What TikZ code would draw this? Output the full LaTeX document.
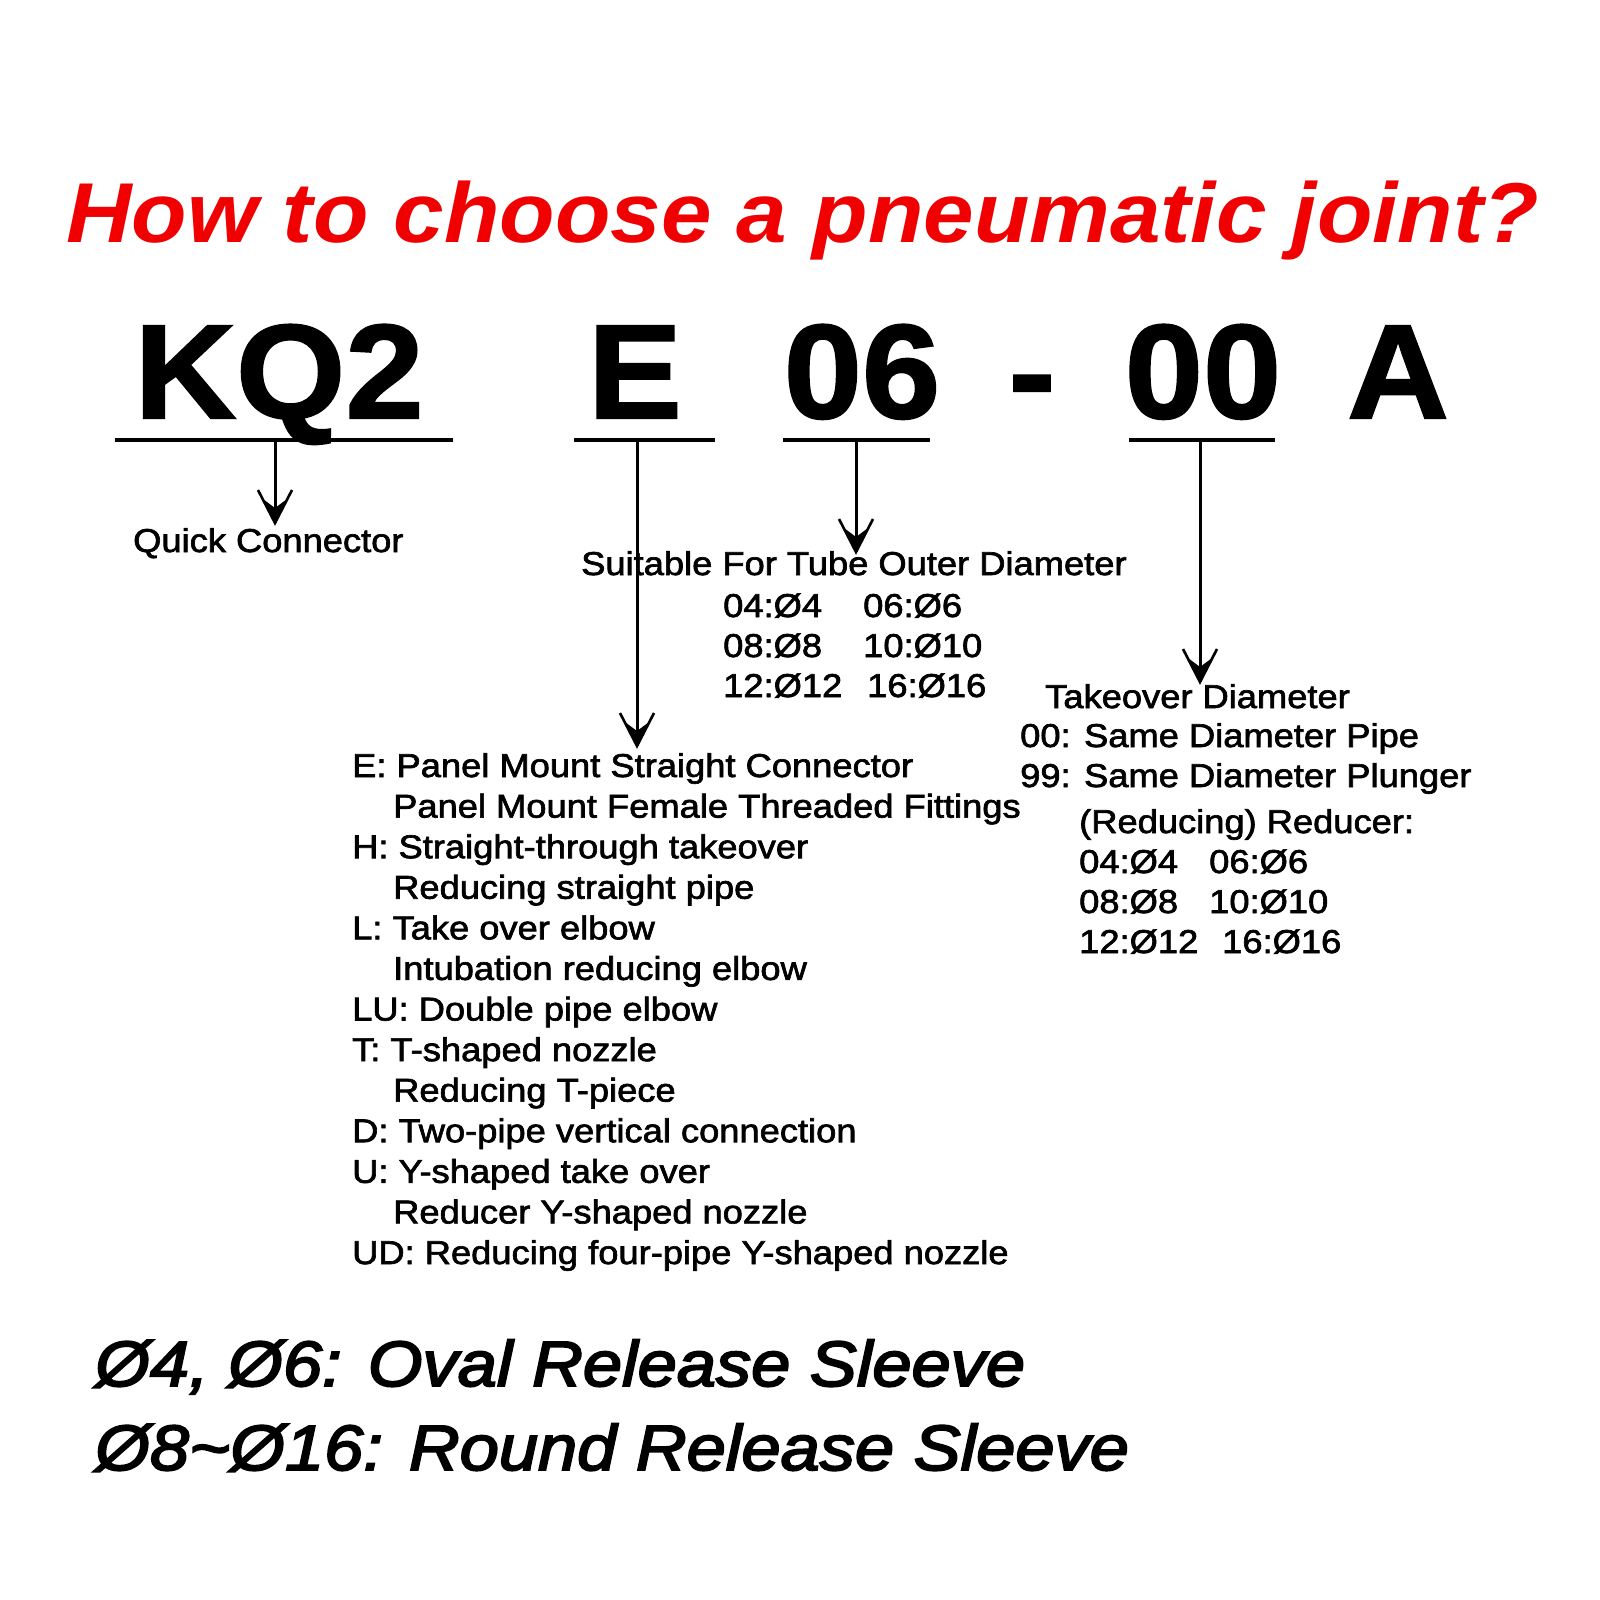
\documentclass[tikz,border=0pt]{standalone}
\usepackage{fontspec}
\usetikzlibrary{calc}
\setmainfont{Liberation Sans}
\newfontfamily\txtfont[FakeStretch=1.1,FakeBold=2]{Liberation Sans}
\newfontfamily\titlefont[FakeStretch=1.068]{Liberation Sans}
\newfontfamily\codefont[FakeStretch=1.05,FakeBold=1.5]{Liberation Sans}
\newfontfamily\botfont[FakeStretch=1.1,FakeBold=3]{Liberation Sans}
\definecolor{titlered}{RGB}{240,0,0}
\tikzset{
  lbl/.style={anchor=base west, inner sep=0pt, font=\txtfont\fontsize{33}{40}\selectfont},
  codetxt/.style={anchor=base, inner sep=0pt, font=\codefont\bfseries\fontsize{134}{140}\selectfont},
  bottxt/.style={anchor=base west, inner sep=0pt, font=\botfont\itshape\fontsize{64}{70}\selectfont},
  uline/.style={line width=3.5pt},
  shaft/.style={line width=3pt},
  headarms/.style={line width=2.6pt, line join=miter, miter limit=20},
}
\newcommand\arrowhd[1]{%
  \draw[headarms] ($(#1)+(-17,-33)$) -- (#1) -- ($(#1)+(17,-33)$);
  \fill ($(#1)+(0,1)$) -- ($(#1)+(-12,-24)$) -- ($(#1)+(0,-15)$) -- ($(#1)+(12,-24)$) -- cycle;}
\begin{document}
\begin{tikzpicture}[x=1pt,y=-1pt]
\useasboundingbox (0,0) rectangle (1600,1600);
\fill[white] (0,0) rectangle (1600,1600);

% title
\node[anchor=base west, inner sep=0pt, text=titlered,
      font=\titlefont\bfseries\itshape\fontsize{85}{90}\selectfont] (title) at (66,242)
      {How to choose a pneumatic joint?};

% code letters
\node[codetxt] (kq) at (279,418) {KQ2};
\node[codetxt] (e) at (635,418) {E};
\node[codetxt] (n06) at (862,418) {06};
\node[codetxt] (dash) at (1032,418) {-};
\node[codetxt] (n00) at (1203,418) {00};
\node[codetxt] (a) at (1398,418) {A};

% underline ends
\coordinate (kqL) at (115,440); \coordinate (kqR) at (453,440);
\coordinate (eL) at (574,440);  \coordinate (eR) at (715,440);
\coordinate (sL) at (783,440);  \coordinate (sR) at (930,440);
\coordinate (zL) at (1129,440); \coordinate (zR) at (1275,440);
\draw[uline] (kqL) -- (kqR);
\draw[uline] (eL) -- (eR);
\draw[uline] (sL) -- (sR);
\draw[uline] (zL) -- (zR);

% arrow start and tip points
\coordinate (kqS) at (275,440); \coordinate (kqT) at (275,523);
\coordinate (eS) at (637,440);  \coordinate (eT) at (637,746);
\coordinate (sS) at (856,440);  \coordinate (sT) at (856,552);
\coordinate (zS) at (1200,440); \coordinate (zT) at (1200,682);

% labels
\node[lbl] (qc) at (133,552) {Quick Connector};

\node[lbl] (suit) at (581,575) {Suitable For Tube Outer Diameter};
\node[lbl] (s1a) at (723,617) {04:Ø4};
\node[lbl] (s1b) at (863,617) {06:Ø6};
\node[lbl] (s2a) at (723,657) {08:Ø8};
\node[lbl] (s2b) at (863,657) {10:Ø10};
\node[lbl] (s3a) at (723,697) {12:Ø12};
\node[lbl] (s3b) at (867,697) {16:Ø16};

\node[lbl] (tk) at (1045,708) {Takeover Diameter};
\node[lbl] (t00) at (1020,747) {00: Same Diameter Pipe};
\node[lbl] (t99) at (1020,787) {99: Same Diameter Plunger};
\node[lbl] (tred) at (1079,833) {(Reducing) Reducer:};
\node[lbl] (t1a) at (1079,873) {04:Ø4};
\node[lbl] (t1b) at (1209,873) {06:Ø6};
\node[lbl] (t2a) at (1079,913) {08:Ø8};
\node[lbl] (t2b) at (1209,913) {10:Ø10};
\node[lbl] (t3a) at (1079,953) {12:Ø12};
\node[lbl] (t3b) at (1222,953) {16:Ø16};

\node[lbl] (l0) at (352,777) {E: Panel Mount Straight Connector};
\node[lbl] (l1) at (393,817.6) {Panel Mount Female Threaded Fittings};
\node[lbl] (l2) at (352,858.2) {H: Straight-through takeover};
\node[lbl] (l3) at (393,898.7) {Reducing straight pipe};
\node[lbl] (l4) at (352,939.3) {L: Take over elbow};
\node[lbl] (l5) at (393,979.9) {Intubation reducing elbow};
\node[lbl] (l6) at (352,1020.5) {LU: Double pipe elbow};
\node[lbl] (l7) at (352,1061.1) {T: T-shaped nozzle};
\node[lbl] (l8) at (393,1101.6) {Reducing T-piece};
\node[lbl] (l9) at (352,1142.2) {D: Two-pipe vertical connection};
\node[lbl] (l10) at (352,1182.8) {U: Y-shaped take over};
\node[lbl] (l11) at (393,1223.4) {Reducer Y-shaped nozzle};
\node[lbl] (l12) at (352,1264) {UD: Reducing four-pipe Y-shaped nozzle};

% arrows
\draw[shaft] (kqS) -- (kqT); \arrowhd{kqT}
\draw[shaft] (eS) -- (eT);   \arrowhd{eT}
\draw[shaft] (sS) -- (sT);   \arrowhd{sT}
\draw[shaft] (zS) -- (zT);   \arrowhd{zT}

% bottom notes
\node[bottxt] (b1) at (95,1386) {Ø4, Ø6: Oval Release Sleeve};
\node[bottxt] (b2) at (95,1470) {Ø8\textasciitilde Ø16: Round Release Sleeve};
\end{tikzpicture}
\end{document}
